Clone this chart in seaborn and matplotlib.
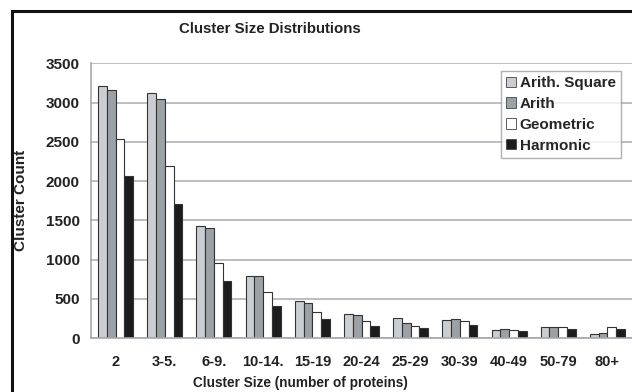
import matplotlib
matplotlib.use("Agg")
import matplotlib.pyplot as plt
import matplotlib.patches as mpatches
import seaborn as sns
import pandas as pd
import numpy as np

# Werte
size_bins = ["2", "3-5.", "6-9.", "10-14.", "15-19", "20-24", "25-29", "30-39", "40-49", "50-79", "80+"]
methods = ["Arith. Square", "Arith", "Geometric", "Harmonic"]
arith_square = [3210, 3117, 1426, 792, 466, 304, 258, 229, 104, 141, 50]
arith = [3155, 3040, 1400, 792, 450, 287, 196, 237, 121, 141, 62]
geometric = [2533, 2188, 953, 583, 333, 216, 158, 221, 104, 141, 137]
harmonic = [2064, 1703, 732, 413, 237, 158, 125, 166, 83, 116, 116]
colors = ["#c9cdd3", "#9ba1a7", "#ffffff", "#1c1c1c"]

df = pd.DataFrame({
    "size": size_bins * 4,
    "count": arith_square + arith + geometric + harmonic,
    "method": [m for m in methods for _ in size_bins],
})

sns.set_style("white")
plt.rcParams["font.family"] = ["Liberation Sans", "DejaVu Sans"]
plt.rcParams["font.weight"] = "bold"

fig = plt.figure(figsize=(6.32, 3.92), dpi=100)
ax = fig.add_axes([91 / 632, 1 - 338 / 392, 1 - 91 / 632, (338 - 63.3) / 392])

sns.barplot(data=df, x="size", y="count", hue="method", palette=colors,
            edgecolor="#333333", linewidth=0.8, width=0.71, ax=ax, legend=True)

ax.set_ylim(0, 3500)
ax.set_xlim(-0.5, -0.5 + 541 / 49.5)
ax.set_yticks(np.arange(0, 3501, 500))
ax.yaxis.grid(True, color="#b4b8bd", linewidth=1.3)
ax.set_axisbelow(True)
for s in ["top", "right"]:
    ax.spines[s].set_visible(False)
for s in ["left", "bottom"]:
    ax.spines[s].set_color("#a4a8ad")
    ax.spines[s].set_linewidth(1.2)

ax.tick_params(axis="y", length=5, color="#a4a8ad", width=1, labelsize=11, pad=3, labelcolor="#222222")
ax.tick_params(axis="x", which="major", length=0, labelsize=10.5, pad=12, labelcolor="#222222")
ax.set_xticks(np.arange(len(size_bins)) + 0.5, minor=True)
ax.tick_params(axis="x", which="minor", length=4, color="#8a8e92", width=1, direction="out")
for lab in ax.get_xticklabels() + ax.get_yticklabels():
    lab.set_fontweight("bold")

ax.set_xlabel("Cluster Size (number of proteins)", fontsize=9.8, fontweight="bold", color="#222222")
ax.xaxis.set_label_coords((300 - 91) / 541, (338 - 376) / 275)
ax.set_ylabel("Cluster Count", fontsize=11, fontweight="bold", color="#222222")
ax.yaxis.set_label_coords((28 - 91) / 541, 0.5)

fig.text(270 / 632, 1 - 29 / 392, "Cluster Size Distributions", fontsize=10.8,
         fontweight="bold", ha="center", va="center", color="#222222")

leg = ax.legend(loc="upper right", bbox_to_anchor=(621 / 632, 1 - 70.7 / 392),
                bbox_transform=fig.transFigure, borderaxespad=0, fancybox=False,
                frameon=True, handlelength=0.65, handleheight=0.65, handletextpad=0.25,
                labelspacing=0.45, borderpad=0.35, prop={"size": 11, "weight": "bold"})
leg.get_frame().set_edgecolor("#9a9ea3")
leg.get_frame().set_linewidth(1.0)
for h in leg.legend_handles:
    h.set_edgecolor("#444444")
    h.set_linewidth(0.6)

# Rahmen um das Diagramm
fig.patches.append(mpatches.Rectangle((12 / 632, -0.1), 1.0, 1.1 - 11 / 392,
                                      transform=fig.transFigure, fill=False,
                                      edgecolor="#111111", linewidth=2.2))

fig.savefig("out.png", dpi=100)
